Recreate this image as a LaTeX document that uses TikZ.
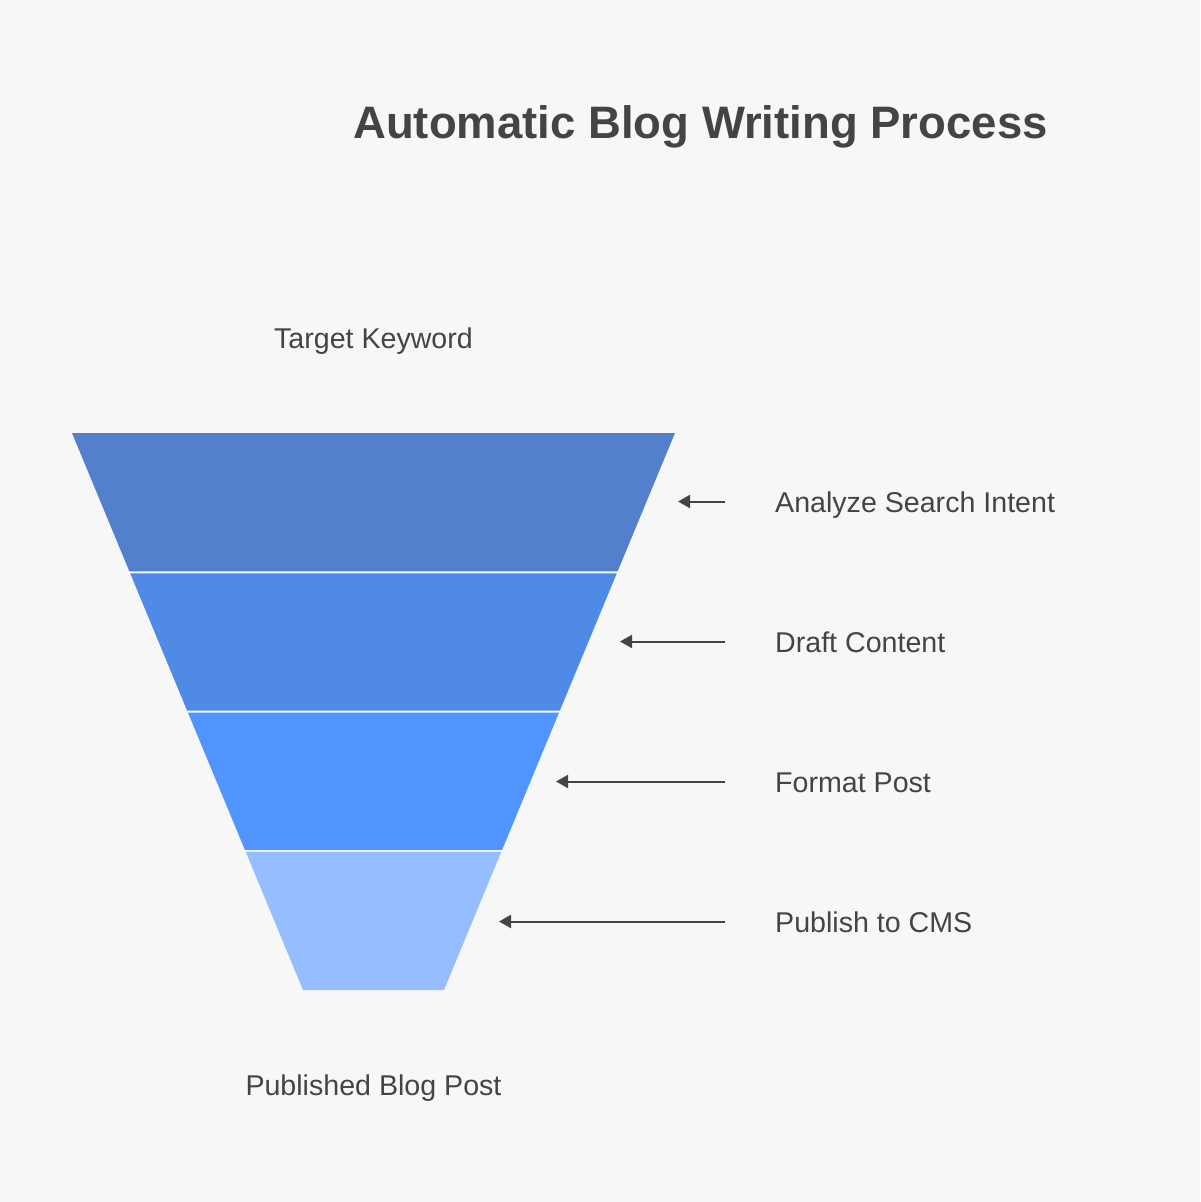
\documentclass[tikz,border=0pt]{standalone}
\usepackage{fontspec}
\setmainfont{Liberation Sans}
\usetikzlibrary{arrows.meta}
\definecolor{bg}{RGB}{248,247,247}
\definecolor{txt}{RGB}{68,68,68}
\definecolor{bandA}{RGB}{82,128,204}
\definecolor{bandB}{RGB}{79,138,230}
\definecolor{bandC}{RGB}{80,149,255}
\definecolor{bandD}{RGB}{149,189,255}
\tikzset{
  label/.style={text=txt, font=\fontsize{28.6}{34}\selectfont, inner sep=0pt},
  titletext/.style={text=txt, font=\fontsize{45.5}{54}\selectfont\bfseries, inner sep=0pt},
  pointer/.style={draw=txt, line width=2pt, -{Triangle[length=12pt,width=13pt]}},
}
\begin{document}
\begin{tikzpicture}[x=1pt,y=-1pt]
\fill[bg] (0,0) rectangle (1200,1202);
\useasboundingbox (0,0) rectangle (1200,1202);

% funnel bands
\fill[bandA] (72,433) -- (675,433) -- (617.67,571.25) -- (129.33,571.25) -- cycle;
\fill[bandB] (130.16,573.25) -- (616.84,573.25) -- (559.92,710.5) -- (187.08,710.5) -- cycle;
\fill[bandC] (187.91,712.5) -- (559.09,712.5) -- (502.17,849.75) -- (244.83,849.75) -- cycle;
\fill[bandD] (245.66,851.75) -- (501.34,851.75) -- (444,990) -- (303,990) -- cycle;

% title and end labels
\node[titletext, anchor=base] (title) at (700.5,138) {Automatic Blog Writing Process};
\node[label, anchor=base] (input) at (373.5,348.5) {Target Keyword};
\node[label, anchor=base] (output) at (373.5,1095) {Published Blog Post};

% step labels
\node[label, anchor=base west] (s1) at (775,512.5) {Analyze Search Intent};
\node[label, anchor=base west] (s2) at (775,652.5) {Draft Content};
\node[label, anchor=base west] (s3) at (775,792.5) {Format Post};
\node[label, anchor=base west] (s4) at (775,932.5) {Publish to CMS};

% arrows
\coordinate (a1s) at (724.5,501.5); \coordinate (a1e) at (678,501.5);
\coordinate (a2s) at (724.5,641.5); \coordinate (a2e) at (620,641.5);
\coordinate (a3s) at (724.5,781.5); \coordinate (a3e) at (556,781.5);
\coordinate (a4s) at (724.5,921.5); \coordinate (a4e) at (499,921.5);
\draw[pointer] (a1s) -- (a1e);
\draw[pointer] (a2s) -- (a2e);
\draw[pointer] (a3s) -- (a3e);
\draw[pointer] (a4s) -- (a4e);
\end{tikzpicture}
\end{document}
